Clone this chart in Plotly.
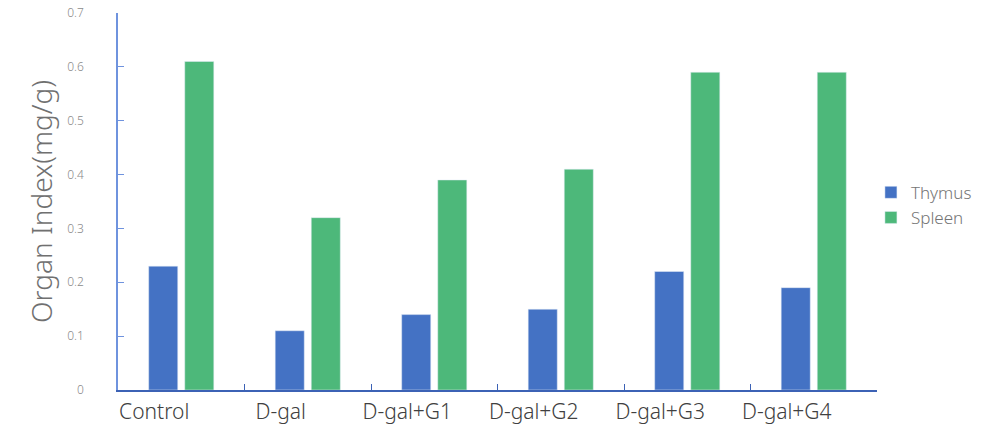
import plotly.graph_objects as go

categories = ["Control", "D-gal", "D-gal+G1", "D-gal+G2", "D-gal+G3", "D-gal+G4"]
thymus = [0.23, 0.11, 0.14, 0.15, 0.22, 0.19]
spleen = [0.61, 0.32, 0.39, 0.41, 0.59, 0.59]
y_ticks = [0, 0.1, 0.2, 0.3, 0.4, 0.5, 0.6, 0.7]
y_tick_text = ["0", "0.1", "0.2", "0.3", "0.4", "0.5", "0.6", "0.7"]

fig = go.Figure()
fig.add_trace(go.Bar(name="Thymus", x=categories, y=thymus, marker_color="#4472C4"))
fig.add_trace(go.Bar(name="Spleen", x=categories, y=spleen, marker_color="#4DB87A"))

font = "'Noto Sans', sans-serif"
fig.update_layout(
    width=992, height=425,
    margin=dict(l=118, r=115, t=13, b=35),
    plot_bgcolor="white", paper_bgcolor="white",
    barmode="group", bargap=0.43, bargroupgap=0.194,
    font=dict(family=font),
    showlegend=True,
    legend=dict(x=0.992, y=0.49, xanchor="left", yanchor="middle",
                font=dict(size=17, color="#757575", weight=300), traceorder="normal",
                itemwidth=30, tracegroupgap=4),
    xaxis=dict(
        automargin=False,
        showline=True, linecolor="#3C62B5", linewidth=1.5,
        tickson="boundaries", ticks="inside", ticklen=6, tickcolor="#3C62B5",
        tickfont=dict(size=21, color="#404040", family=font, weight=300),
        ticklabelshift=-27, ticklabelstandoff=2,
        showgrid=False, zeroline=False,
    ),
    yaxis=dict(
        automargin=False,
        range=[0, 0.7], tickvals=y_ticks, ticktext=y_tick_text,
        showline=True, linecolor="#6F93DE", linewidth=1.5,
        ticks="inside", ticklen=6, tickcolor="#6F93DE",
        tickfont=dict(size=12, color="#8a8a8a", family=font, weight=300),
        ticklabelstandoff=30,
        showgrid=False, zeroline=False,
        title=dict(text="Organ Index(mg/g)", font=dict(size=28, color="#707070", family=font, weight=300), standoff=6),
    ),
)
fig.write_html("out.html", config={"displayModeBar": False},
               post_script="document.body.style.margin='0';document.body.style.overflow='hidden';")
